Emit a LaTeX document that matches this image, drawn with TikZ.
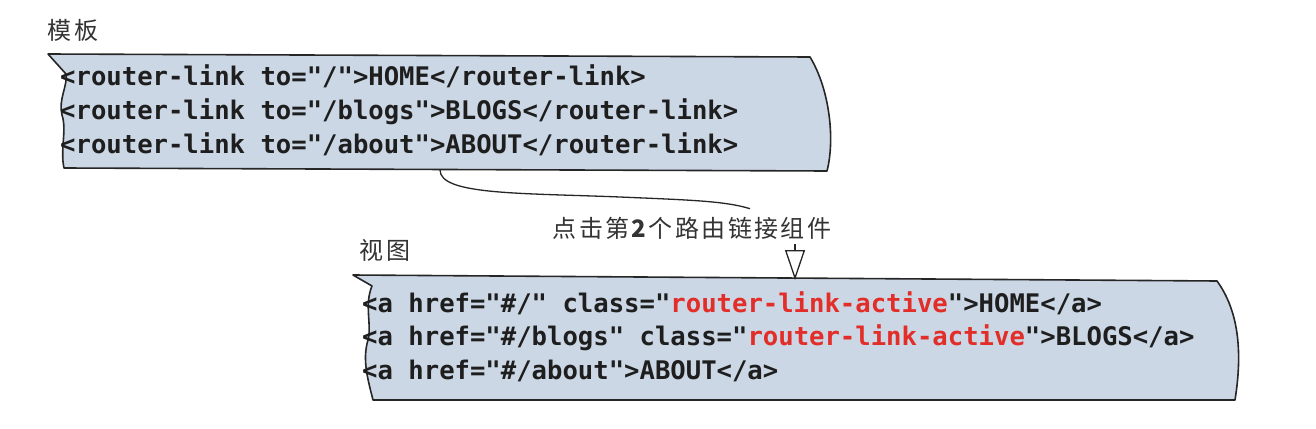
\documentclass[tikz,border=0pt]{standalone}
\usepackage{fontspec}
\setmonofont{DejaVu Sans Mono}
\newfontfamily\cjkfont[LetterSpace=10]{Noto Sans CJK SC}
\usetikzlibrary{arrows.meta}
\definecolor{boxfill}{RGB}{203,215,229}
\definecolor{activered}{RGB}{226,45,40}
\definecolor{codeink}{RGB}{30,30,30}

\begin{document}
\begin{tikzpicture}[x=1pt,y=-1pt,line join=round,
  codebox/.style={draw=black!85,line width=1.6pt,fill=boxfill},
  codeline/.style={anchor=base west,inner sep=0pt,text=codeink,
    font=\ttfamily\bfseries\fontsize{25.6}{26}\selectfont},
  handnote/.style={inner sep=0pt,text=black!80,
    font=\cjkfont\fontsize{24}{24}\selectfont},
  linkline/.style={draw=black!85,line width=1.3pt},
]
\useasboundingbox (0,0) rectangle (1316,428);
%% template box
\draw[codebox] (48,54) -- (810,57) .. controls (830,90) and (835,140) .. (827,171)
  -- (64,168) .. controls (60,150) and (67,130) .. (62,115)
  .. controls (58,100) and (68,85) .. (66,74) -- cycle;
\node (tmpl_title) at (73,30) [handnote] {模板};
\node (tmpl_home) at (60,85) [codeline] {<router-link to="/">HOME</router-link>};
\node (tmpl_blogs) at (60,119) [codeline] {<router-link to="/blogs">BLOGS</router-link>};
\node (tmpl_about) at (60,153) [codeline] {<router-link to="/about">ABOUT</router-link>};
\coordinate (tmpl_tail) at (440,170);
%% view box
\draw[codebox] (353,275) -- (1217,281) .. controls (1238,310) and (1243,350) .. (1235,400)
  -- (373,400) .. controls (368,380) and (362,360) .. (368,340)
  .. controls (372,325) and (364,305) .. (372,286) -- cycle;
\node (view_title) at (385,250) [handnote] {视图};
\node (view_home) at (362,312) [codeline] {<a href="\#/" class="\textcolor{activered}{router-link-active}">HOME</a>};
\node (view_blogs) at (362,345) [codeline] {<a href="\#/blogs" class="\textcolor{activered}{router-link-active}">BLOGS</a>};
\node (view_about) at (362,379) [codeline] {<a href="\#/about">ABOUT</a>};
\coordinate (view_top) at (795,280);
%% click note
\node (click) at (692,228) [handnote] {点击第\textbf{2}个路由链接组件};
\draw[linkline] (tmpl_tail) .. controls (440,195) and (520,193) .. (620,197)
  .. controls (690,200) and (725,201) .. ([xshift=58pt,yshift=8pt]click.north);
\draw[linkline,-{Triangle[open,length=30pt,width=20pt]}] ([xshift=103pt,yshift=-5pt]click.south) -- (view_top);
%
\end{tikzpicture}
\end{document}
